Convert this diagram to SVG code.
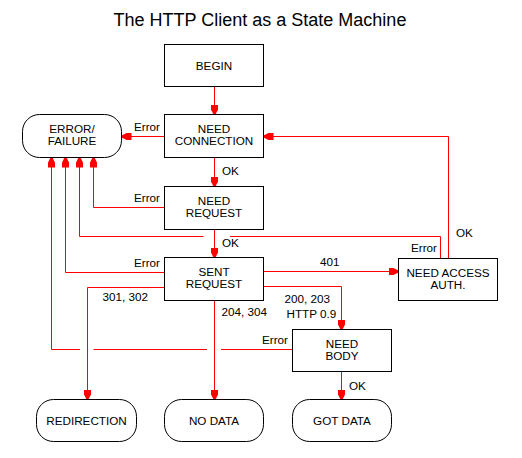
<svg xmlns="http://www.w3.org/2000/svg" width="522" height="458" viewBox="0 0 522 458">
<style>
.node rect{fill:#fff;stroke:#000;stroke-width:1}
.node text{font-family:"Liberation Sans",Arial,sans-serif;font-size:11.7px;fill:#000;text-anchor:middle}
.conn path{fill:none;stroke:#f00;stroke-width:1}
.lbl{font-family:"Liberation Sans",Arial,sans-serif;font-size:11.7px;fill:#000}
.end{text-anchor:end}
</style>
<defs>
<marker id="arr" markerUnits="userSpaceOnUse" markerWidth="10" markerHeight="8" viewBox="0 0 10 8" refX="10" refY="4" orient="auto">
<path d="M0,0.5 L5,0.5 L10,3 L10,5 L5,7.5 L0,7.5 Z" fill="#f00"/>
</marker>
</defs>
<rect width="522" height="458" fill="#fff"/>
<text x="260" y="26" font-family="Liberation Sans,Arial,sans-serif" font-size="18" text-anchor="middle" fill="#000">The HTTP Client as a State Machine</text>

<g class="conn" marker-end="url(#arr)">
<path id="c1" d="M214.5,86.5 V114.5" marker-end="url(#arr)"/>
<path id="c2" d="M164.5,136.5 H121.5" marker-end="url(#arr)"/>
<path id="c3" d="M214.5,157.5 V186.5" marker-end="url(#arr)"/>
<path id="c4" d="M164.5,207.5 H93.5 V157.5" marker-end="url(#arr)"/>
<path id="c5" d="M440.5,258.5 V236.5 H230 M203.5,236.5 H79.5 V157.5" marker-end="url(#arr)"/>
<path id="c6" d="M214.5,229.5 V257.5" marker-end="url(#arr)"/>
<path id="c7" d="M164.5,272.5 H65.5 V157.5" marker-end="url(#arr)"/>
<path id="c8" d="M292.5,349.5 H221 M207,349.5 H93.5 M80,349.5 H51.5 V157.5" marker-end="url(#arr)"/>
<path id="c9" d="M164.5,287.5 H87.5 V399.5" marker-end="url(#arr)"/>
<path id="c10" d="M214.5,300.5 V399.5" marker-end="url(#arr)"/>
<path id="c11" d="M263.5,271.5 H398.5" marker-end="url(#arr)"/>
<path id="c12" d="M263.5,286.5 H341.5 V329.5" marker-end="url(#arr)"/>
<path id="c13" d="M448.5,258.5 V136.5 H263.5" marker-end="url(#arr)"/>
<path id="c14" d="M341.5,371.5 V399.5" marker-end="url(#arr)"/>
</g>

<g id="labels">
<text class="lbl end" x="160" y="131">Error</text>
<text class="lbl" x="222" y="175">OK</text>
<text class="lbl end" x="160" y="202">Error</text>
<text class="lbl" x="222" y="247">OK</text>
<text class="lbl end" x="160" y="267">Error</text>
<text class="lbl end" x="437" y="252">Error</text>
<text class="lbl" x="456" y="237">OK</text>
<text class="lbl" x="320" y="266">401</text>
<text class="lbl" x="102.5" y="300.5">301, 302</text>
<text class="lbl" x="221.5" y="315.5">204, 304</text>
<text class="lbl" x="284.5" y="302.5">200, 203</text>
<text class="lbl" x="286.5" y="317.5">HTTP 0.9</text>
<text class="lbl end" x="288" y="343.5">Error</text>
<text class="lbl" x="349" y="389.5">OK</text>
</g>

<g id="begin" class="node"><rect x="164.5" y="44.5" width="99" height="42"/><text x="214" y="70">BEGIN</text></g>
<g id="need-connection" class="node"><rect x="164.5" y="114.5" width="99" height="43"/><text x="214" y="133">NEED</text><text x="214" y="145">CONNECTION</text></g>
<g id="need-request" class="node"><rect x="164.5" y="186.5" width="99" height="43"/><text x="214" y="205">NEED</text><text x="214" y="217">REQUEST</text></g>
<g id="sent-request" class="node"><rect x="164.5" y="257.5" width="99" height="43"/><text x="214" y="276">SENT</text><text x="214" y="288">REQUEST</text></g>
<g id="need-access" class="node"><rect x="398.5" y="258.5" width="99" height="42"/><text x="448" y="277">NEED ACCESS</text><text x="448" y="289">AUTH.</text></g>
<g id="need-body" class="node"><rect x="292.5" y="329.5" width="99" height="42"/><text x="342" y="348">NEED</text><text x="342" y="360">BODY</text></g>
<g id="error" class="node"><rect x="22.5" y="114.5" width="99" height="43" rx="17" ry="17"/><text x="72" y="133">ERROR/</text><text x="72" y="145">FAILURE</text></g>
<g id="redirection" class="node"><rect x="36.5" y="399.5" width="100" height="42" rx="17" ry="17"/><text x="86.5" y="425">REDIRECTION</text></g>
<g id="no-data" class="node"><rect x="164.5" y="399.5" width="99" height="42" rx="17" ry="17"/><text x="214" y="425">NO DATA</text></g>
<g id="got-data" class="node"><rect x="292.5" y="399.5" width="99" height="42" rx="17" ry="17"/><text x="342" y="425">GOT DATA</text></g>
</svg>
